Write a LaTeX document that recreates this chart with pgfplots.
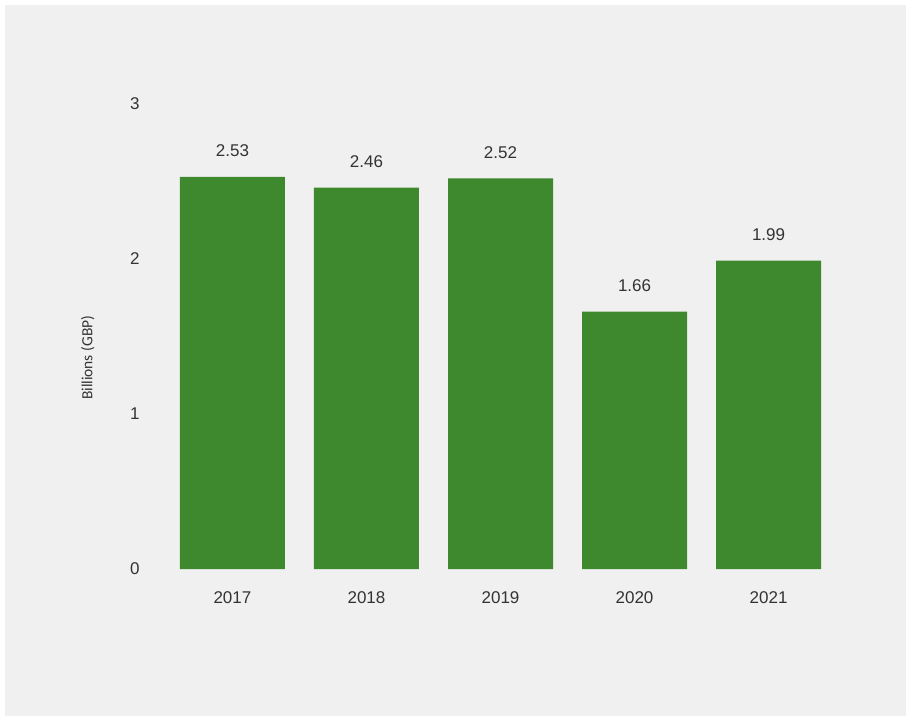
\documentclass[border=0pt]{standalone}
\usepackage{fontspec}
\setmainfont{Liberation Sans}
\newfontfamily\labfont{Carlito}
\usepackage{pgfplots}
\pgfplotsset{compat=1.18}
\definecolor{bg}{HTML}{F0F0F0}
\definecolor{bar}{HTML}{3E892E}
\definecolor{txt}{HTML}{333333}
\begin{document}
\begin{tikzpicture}[x=1pt,y=1pt]
\fill[white] (0,0) rectangle (909,717);
\fill[bg] (5,1) rectangle (906,712);
\begin{axis}[
  at={(152pt,148pt)}, anchor=south west,
  scale only axis, width=697pt, height=465pt,
  xmin=-0.6, xmax=4.6, ymin=0, ymax=3,
  axis line style={draw=none},
  major tick length=0pt,
  xtick={0,1,2,3,4},
  xticklabels={2017,2018,2019,2020,2021},
  ytick={0,1,2,3},
  /pgf/number format/assume math mode=true,
  tick label style={font=\fontsize{17}{20}\selectfont, text=txt},
  xticklabel style={yshift=-19pt},
  yticklabel style={xshift=-9pt},
  ylabel={Billions (GBP)},
  ylabel style={at={(axis description cs:-0.092,0.454)}, anchor=center, font=\labfont\fontsize{15.5}{18}\selectfont, text=txt},
  nodes near coords,
  nodes near coords style={anchor=base, yshift=20pt, inner sep=0pt, font=\fontsize{17}{20}\selectfont, text=txt, /pgf/number format/.cd, fixed, precision=2, fixed zerofill},
  clip=false,
]
\addplot[ybar, bar width=105pt, fill=bar, draw=none] coordinates {(0,2.53) (1,2.46) (2,2.52) (3,1.66) (4,1.99)};
\end{axis}
\end{tikzpicture}
\end{document}
